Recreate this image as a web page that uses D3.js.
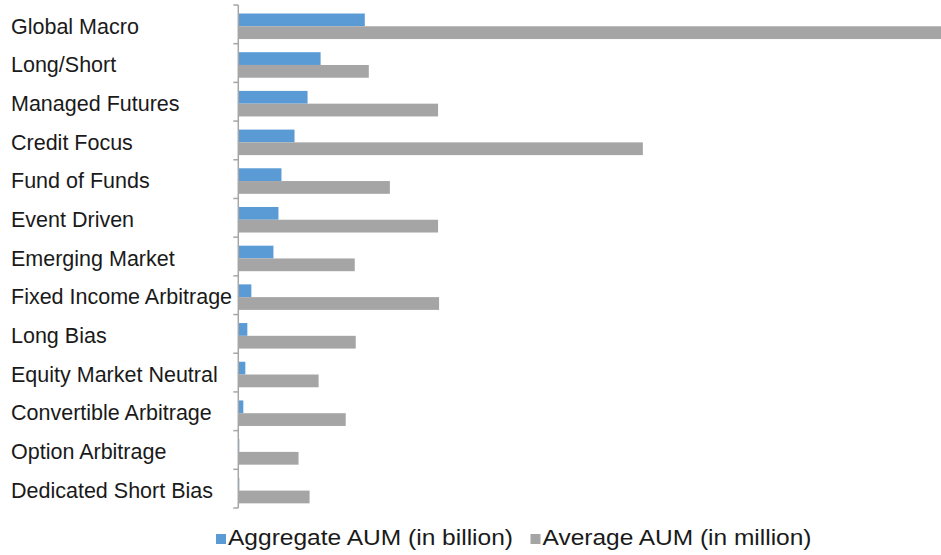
<!DOCTYPE html>
<html>
<head>
<meta charset="utf-8">
<script src="https://cdn.jsdelivr.net/npm/d3@7"></script>
<style>
  body { margin: 0; background: #fff; }
  svg { display: block; font-family: "Liberation Sans", Arial, sans-serif; }
</style>
</head>
<body>
<div id="grafica"></div>
<script>
// strategies, top to bottom
var categories = ["Global Macro", "Long/Short", "Managed Futures", "Credit Focus", "Fund of Funds",
  "Event Driven", "Emerging Market", "Fixed Income Arbitrage", "Long Bias", "Equity Market Neutral",
  "Convertible Arbitrage", "Option Arbitrage", "Dedicated Short Bias"];

var seriesNames = ["Aggregate AUM (in billion)", "Average AUM (in million)"];

var aggregateAUM = [126, 82, 69, 56, 43, 40, 35, 13, 9, 7, 5, 1, 1];
var averageAUM   = [705, 130, 199, 403, 151, 199, 116, 200, 117, 80, 107, 60, 71];

var colors = ["#5b9bd5", "#a5a5a5"];

var width = 941, height = 555;

var svg = d3.select("#grafica")
  .append("svg")
    .attr("width", width)
    .attr("height", height);

// x has no visible axis in the original
var x = d3.scaleLinear()
  .domain([0, 700])
  .range([238.3, 941]);

var y = d3.scaleBand()
  .domain(categories)
  .range([5, 508]);

// two bars inside each band, a bit below centre
var ySub = d3.scaleBand()
  .domain(seriesNames)
  .range([y.bandwidth() * 0.22, y.bandwidth() * 0.88]);

var rows = categories.map(function(c, i) {
  return { name: c, values: [aggregateAUM[i], averageAUM[i]] };
});

var groups = svg.append("g")
  .selectAll("g")
  .data(rows)
  .enter().append("g")
    .attr("transform", function(d) { return "translate(0," + y(d.name) + ")"; });

groups.selectAll("rect")
  .data(function(d) { return d.values.map(function(v, k) { return { key: seriesNames[k], value: v, k: k }; }); })
  .enter().append("rect")
    .attr("x", x(0))
    .attr("y", function(d) { return ySub(d.key); })
    .attr("height", ySub.bandwidth())
    .attr("width", function(d) { return x(d.value) - x(0); })
    .style("fill", function(d) { return colors[d.k]; });

// category labels
groups.append("text")
  .attr("x", 11)
  .attr("y", 28.5)
  .style("font-size", "21.5px")
  .style("fill", "#1a1a1a")
  .text(function(d) { return d.name; });

// left axis: line plus ticks at band edges
var tickPos = categories.map(function(c) { return y(c); }).concat([y.range()[1]]);

var axis = svg.append("g")
  .style("stroke", "#a6a6a6")
  .style("stroke-width", 1.5);

axis.append("line")
  .attr("x1", x(0)).attr("x2", x(0))
  .attr("y1", y.range()[0]).attr("y2", y.range()[1]);

axis.selectAll(".tick")
  .data(tickPos)
  .enter().append("line")
    .attr("class", "tick")
    .attr("x1", x(0) - 5).attr("x2", x(0))
    .attr("y1", function(d) { return d; })
    .attr("y2", function(d) { return d; });

// legend
var legendX = [216, 530.5];
var legendW = [285, 269];

var legend = svg.append("g")
  .selectAll("g")
  .data(seriesNames)
  .enter().append("g")
    .attr("transform", function(d, i) { return "translate(" + legendX[i] + ",534)"; });

legend.append("rect")
  .attr("width", 10)
  .attr("height", 10)
  .style("fill", function(d, i) { return colors[i]; });

legend.append("text")
  .attr("x", 12)
  .attr("y", 11)
  .attr("textLength", function(d, i) { return legendW[i]; })
  .attr("lengthAdjust", "spacingAndGlyphs")
  .style("font-size", "22px")
  .style("fill", "#1a1a1a")
  .text(function(d) { return d; });
</script>
</body>
</html>
